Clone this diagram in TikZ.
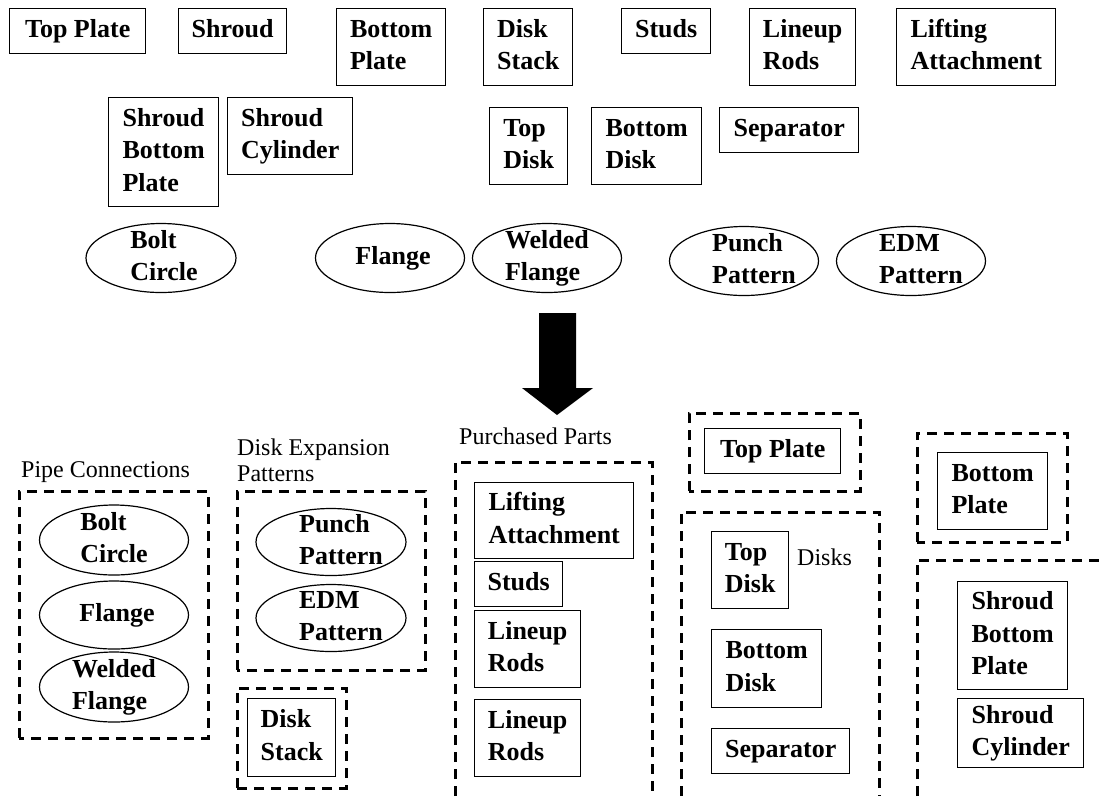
\documentclass[tikz,border=0pt]{standalone}
\usepackage{fontspec}
\setmainfont{Liberation Serif}
\usetikzlibrary{shapes.geometric}
% stacked, left-aligned lines whose baseline is the first line
\newcommand\stk[1]{\begin{tabular}[t]{@{}l@{}}#1\end{tabular}}
\begin{document}
\begin{tikzpicture}[x=1pt,y=-1pt,
  part/.style={draw, line width=1.4pt, rectangle, anchor=north west, inner sep=0pt,
               font=\bfseries\fontsize{26}{32.5}\selectfont},
  sz/.style 2 args={minimum width=#1pt, minimum height=#2pt},
  oval/.style={draw, ellipse, line width=1.2pt, inner sep=0pt},
  ovaltext/.style={inner sep=0pt, font=\bfseries\fontsize{26}{32.5}\selectfont},
  group/.style={draw, line width=3pt, dash pattern=on 10pt off 7pt},
  caption/.style={anchor=base west, inner sep=0pt, font=\fontsize{24}{26}\selectfont},
  bigarrow/.style={fill=black}]
\useasboundingbox (0,0) rectangle (1102,796);

% ---------- loose parts: first row ----------
\node[part, sz={136}{45}] (tTopPlate)    at (9,8)   {\stk{Top Plate}};
\node[part, sz={108}{45}] (tShroud)      at (178,8) {\stk{Shroud}};
\node[part, sz={109}{77}] (tBottomPlate) at (336,8) {\stk{Bottom\\Plate}};
\node[part, sz={89}{77}]  (tDiskStack)   at (483,8) {\stk{Disk\\Stack}};
\node[part, sz={89}{45}]  (tStuds)       at (621,8) {\stk{Studs}};
\node[part, sz={106}{77}] (tLineup)      at (749,8) {\stk{Lineup\\Rods}};
\node[part, sz={159}{77}] (tLifting)     at (896,8) {\stk{Lifting\\Attachment}};

% ---------- loose parts: second row ----------
\node[part, sz={110}{109}] (tShroudBP)   at (108,97)  {\stk{Shroud\\Bottom\\Plate}};
\node[part, sz={125}{77}]  (tShroudCyl)  at (227,97)  {\stk{Shroud\\Cylinder}};
\node[part, sz={78}{77}]   (tTopDisk)    at (489,107) {\stk{Top\\Disk}};
\node[part, sz={110}{77}]  (tBottomDisk) at (591,107) {\stk{Bottom\\Disk}};
\node[part, sz={139}{45}]  (tSeparator)  at (719,107) {\stk{Separator}};

% ---------- loose features ----------
\node[oval, minimum width=150pt, minimum height=69pt] (eBolt)   at (161,258) {};
\node[oval, minimum width=149pt, minimum height=69pt] (eFlange) at (390,258) {};
\node[oval, minimum width=149pt, minimum height=69pt] (eWelded) at (547,258) {};
\node[oval, minimum width=149pt, minimum height=69pt] (ePunch)  at (744,261) {};
\node[oval, minimum width=149pt, minimum height=69pt] (eEDM)    at (911,261) {};
\node[ovaltext] (eBoltT)   at ([xshift=3pt]eBolt.center)    {\stk{Bolt\\Circle}};
\node[ovaltext] (eFlangeT) at ([xshift=3pt]eFlange.center)  {\stk{Flange}};
\node[ovaltext] (eWeldedT) at (eWelded.center)              {\stk{Welded\\Flange}};
\node[ovaltext] (ePunchT)  at ([xshift=10pt]ePunch.center)  {\stk{Punch\\Pattern}};
\node[ovaltext] (eEDMT)    at ([xshift=10pt]eEDM.center)    {\stk{EDM\\Pattern}};

% ---------- block arrow ----------
\coordinate (arrTop) at (557,313);
\coordinate (arrTip) at (557,415);
\fill[bigarrow] ([xshift=-18pt]arrTop) -- ([xshift=19pt]arrTop) -- (576,388) -- (593,388)
  -- (arrTip) -- (522,388) -- (539,388) -- cycle;

% ---------- Pipe Connections ----------
\node[caption] (capPipe) at (21,477) {Pipe Connections};
\draw[group] (19,738) -- (19,491) -- (208,491) -- (208,738) -- cycle;
\node[oval, minimum width=149pt, minimum height=70pt] (bBolt)   at (114,540) {};
\node[oval, minimum width=149pt, minimum height=68pt] (bFlange) at (114,615) {};
\node[oval, minimum width=149pt, minimum height=70pt] (bWelded) at (114,687) {};
\node[ovaltext] (bBoltT)   at (bBolt.center)                {\stk{Bolt\\Circle}};
\node[ovaltext] (bFlangeT) at ([xshift=3pt]bFlange.center)  {\stk{Flange}};
\node[ovaltext] (bWeldedT) at (bWelded.center)              {\stk{Welded\\Flange}};

% ---------- Disk Expansion Patterns ----------
\node[caption] (capDEP) at (237,455) {\stk{Disk Expansion\\Patterns}};
\draw[group] (237,670) -- (237,491) -- (425,491) -- (425,670) -- cycle;
\node[oval, minimum width=150pt, minimum height=67pt] (bPunch) at (331,542) {};
\node[oval, minimum width=150pt, minimum height=67pt] (bEDM)   at (331,618) {};
\node[ovaltext] (bPunchT) at ([xshift=10pt]bPunch.center) {\stk{Punch\\Pattern}};
\node[ovaltext] (bEDMT)   at ([xshift=10pt]bEDM.center)   {\stk{EDM\\Pattern}};

% ---------- Disk Stack ----------
\draw[group] (237,788) -- (237,688) -- (346,688) -- (346,788) -- cycle;
\node[part, sz={88}{78}] (bDiskStack) at (247,698) {\stk{Disk\\Stack}};

% ---------- Purchased Parts ----------
\node[caption] (capPurchased) at (459,444) {Purchased Parts};
\draw[group] (455,796) -- (455,462) -- (652,462) -- (652,796);
\node[part, sz={159}{76}] (bLifting) at (474,482) {\stk{Lifting\\Attachment}};
\node[part, sz={88}{45}]  (bStuds)   at (474,561) {\stk{Studs}};
\node[part, sz={106}{77}] (bLineupA) at (474,610) {\stk{Lineup\\Rods}};
\node[part, sz={106}{77}] (bLineupB) at (474,699) {\stk{Lineup\\Rods}};

% ---------- Top Plate ----------
\draw[group] (689,491) -- (689,413) -- (860,413) -- (860,491) -- cycle;
\node[part, sz={136}{45}] (bTopPlate) at (704,428) {\stk{Top Plate}};

% ---------- Disks ----------
\draw[group] (681,796) -- (681,512) -- (879,512) -- (879,796);
\node[caption] (capDisks) at (797,565) {Disks};
\node[part, sz={77}{77}]  (bTopDisk)    at (711,531) {\stk{Top\\Disk}};
\node[part, sz={110}{78}] (bBottomDisk) at (711,629) {\stk{Bottom\\Disk}};
\node[part, sz={138}{45}] (bSeparator)  at (711,728) {\stk{Separator}};

% ---------- Bottom Plate ----------
\draw[group] (917,542) -- (917,433) -- (1067,433) -- (1067,542) -- cycle;
\node[part, sz={110}{77}] (bBottomPlate) at (937,452) {\stk{Bottom\\Plate}};

% ---------- Shroud ----------
\draw[group] (917,796) -- (917,560) -- (1110,560);
\node[part, sz={110}{108}] (bShroudBP)  at (957,581) {\stk{Shroud\\Bottom\\Plate}};
\node[part, sz={126}{69}]  (bShroudCyl) at (957,698) {\stk{Shroud\\Cylinder}};

\end{tikzpicture}
\end{document}
